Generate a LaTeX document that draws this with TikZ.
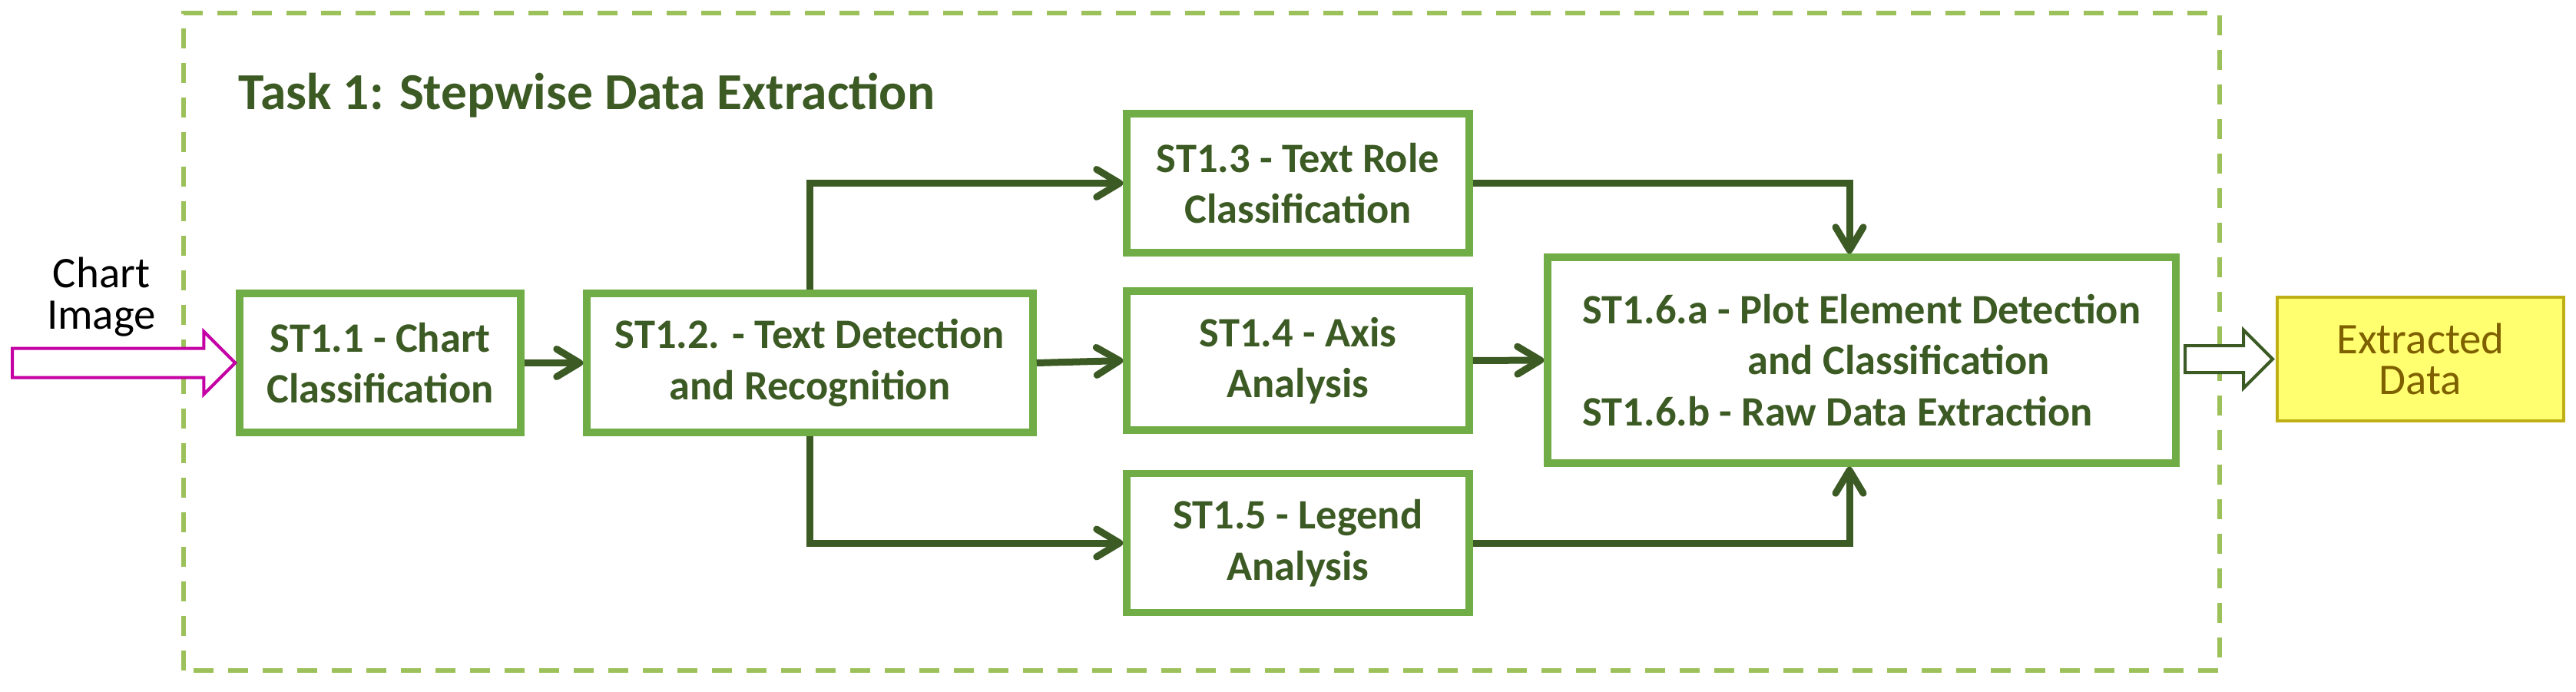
\documentclass[tikz,border=0pt]{standalone}
\usepackage{fontspec}
\setmainfont{Carlito}
\usetikzlibrary{arrows.meta}
\definecolor{boxgreen}{RGB}{112,173,71}
\definecolor{darkgreen}{RGB}{60,90,35}
\definecolor{framegreen}{RGB}{157,193,90}
\definecolor{inpink}{RGB}{196,0,164}
\definecolor{outyellow}{RGB}{255,255,112}
\definecolor{outolive}{RGB}{190,176,20}
\definecolor{outbrown}{RGB}{127,96,0}
\begin{document}
\begin{tikzpicture}[
		stepbox/.style={draw=boxgreen, line width=0.095cm, fill=white, text=darkgreen,
			font=\fontsize{15.5pt}{18.9pt}\selectfont\bfseries, align=center, inner sep=0pt},
		flow/.style={draw=darkgreen, line width=0.09cm, -{Straight Barb[length=0.3cm,width=0.36cm,round]}},
		blockarrow/.style={line width=0.04cm, fill=white, line join=miter}]
			\useasboundingbox (0,0) rectangle (33.54,9.00);
			\draw[framegreen, line width=0.055cm, dash pattern=on 0.26cm off 0.19cm] (2.39,0.27) rectangle (28.90,8.83);
			\node[anchor=base west, inner sep=0pt, text=darkgreen, font=\fontsize{19.2pt}{23pt}\selectfont\bfseries] (title) at (3.10,7.57) {Task 1: Stepwise Data Extraction};
			\node[inner sep=0pt, align=center, font=\fontsize{16.2pt}{15.4pt}\selectfont] (chartimg) at (1.32,5.13) {Chart\\Image};
			\node[stepbox, minimum width=3.66cm, minimum height=1.81cm] (st11) at (4.95,4.275) {ST1.1 - Chart\\Classification};
			\node[stepbox, minimum width=5.81cm, minimum height=1.81cm] (st12) at (10.545,4.275) {ST1.2. - Text Detection\\and Recognition};
			\node[stepbox, minimum width=4.46cm, minimum height=1.81cm] (st13) at (16.90,6.615) {ST1.3 - Text Role\\Classification};
			\node[stepbox, minimum width=4.46cm, minimum height=1.81cm] (st14) at (16.90,4.305) {ST1.4 - Axis\\Analysis};
			\node[stepbox, minimum width=4.46cm, minimum height=1.81cm] (st15) at (16.90,1.93) {ST1.5 - Legend\\Analysis};
			\node[stepbox, align=left, minimum width=8.18cm, minimum height=2.68cm] (st16) at (24.24,4.31) {ST1.6.a - Plot Element Detection\\\hspace*{2.15cm}and Classification\\ST1.6.b - Raw Data Extraction};
			\node[draw=outolive, line width=0.04cm, fill=outyellow, text=outbrown, align=center,
				font=\fontsize{16.2pt}{15.1pt}\selectfont, minimum width=3.73cm, minimum height=1.61cm] (out) at (31.515,4.325) {Extracted\\Data};
			\draw[blockarrow, draw=inpink] ([xshift=-0.01cm]st11.west) -- ++(-0.41,0.41) -- ++(0,-0.22) -- ++(-2.49,0) -- ++(0,-0.38) -- ++(2.49,0) -- ++(0,-0.22) -- cycle;
			\draw[flow] (st11) -- (st12);
			\draw[flow] (st12.east) -- (st14.west);
			\draw[flow] (st12.north) |- (st13.west);
			\draw[flow] (st12.south) |- (st15.west);
			\draw[flow] (st13.east) -| ([xshift=-0.16cm]st16.north);
			\draw[flow] (st14.east) -- (st16.west);
			\draw[flow] (st15.east) -| ([xshift=-0.16cm]st16.south);
			\draw[blockarrow, draw=darkgreen] ([xshift=-0.04cm]out.west) -- ++(-0.38,0.38) -- ++(0,-0.205) -- ++(-0.76,0) -- ++(0,-0.35) -- ++(0.76,0) -- ++(0,-0.205) -- cycle;
		\end{tikzpicture}
\end{document}
